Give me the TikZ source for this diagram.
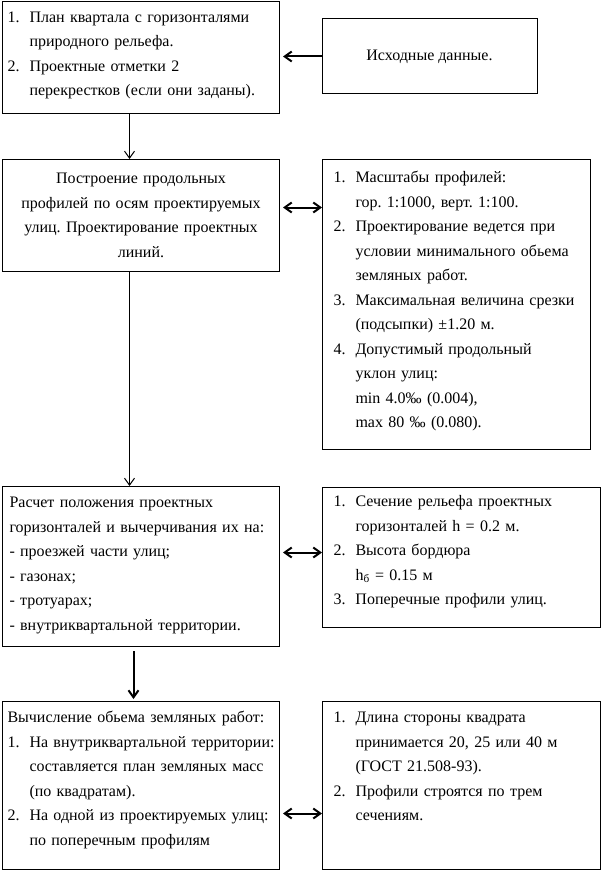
\documentclass[tikz,border=0pt]{standalone}
\usepackage{fontspec}
\setmainfont{Liberation Serif}
\usetikzlibrary{arrows.meta,positioning}
\frenchspacing
\newcommand{\nr}[1]{\makebox[22pt][l]{#1}}
\newcommand{\insp}{\hspace*{22pt}}

\begin{document}
\begin{tikzpicture}[x=1pt,y=-1pt,
  kader/.style={draw,line width=1pt,inner sep=0pt,font=\fontsize{16}{24.5}\selectfont},
  blok/.style={kader,anchor=north west,align=left},
  pijl/.style={-{Straight Barb[length=7pt,width=10pt]},line width=1pt},
  dikpijl/.style={pijl,line width=2pt},
  dubbel/.style={{Straight Barb[length=7pt,width=10pt]}-{Straight Barb[length=7pt,width=10pt]},line width=2pt}]
\useasboundingbox (0,0) rectangle (603,872);
% left column
\node[blok,text width=267pt,inner xsep=5pt,text height=21pt,text depth=91pt] (plan) at (2,1)
  {\nr{1.}План квартала с горизонталями\\
   \insp природного рельефа.\\
   \nr{2.}Проектные отметки 2\\
   \insp перекрестков (если они заданы).};
\node[kader,align=center,anchor=north west,text width=267pt,inner xsep=5pt,text height=24pt,text depth=88pt] (profielen) at (2,159)
  {Построение продольных\\
   профилей по осям проектируемых\\
   улиц. Проектирование проектных\\
   линий.};
\node[blok,text width=263pt,inner xsep=7pt,text height=21pt,text depth=139pt] (horizontalen) at (2,486)
  {Расчет положения проектных\\
   горизонталей и вычерчивания их на:\\
   - проезжей части улиц;\\
   - газонах;\\
   - тротуарах;\\
   - внутриквартальной территории.};
\node[blok,text width=267pt,inner xsep=5pt,text height=21pt,text depth=147pt] (volume) at (2,701)
  {Вычисление обьема земляных работ:\\
   \nr{1.}\mbox{На внутриквартальной территории:}\\
   \insp составляется план земляных масс\\
   \insp (по квадратам).\\
   \nr{2.}\mbox{На одной из проектируемых улиц:}\\
   \insp по поперечным профилям};
% right column
\node[kader,minimum width=215pt,minimum height=75pt] (bron) at (429.5,56.5) {Исходные данные.};
\node[blok,text width=246pt,inner xsep=11pt,text height=23pt,text depth=267pt] (schalen) at (322,159)
  {\nr{1.}Масштабы профилей:\\
   \insp гор. 1:1000, верт. 1:100.\\
   \nr{2.}Проектирование ведется при\\
   \insp \mbox{условии минимального обьема}\\
   \insp земляных работ.\\
   \nr{3.}\mbox{Максимальная величина срезки}\\
   \insp (подсыпки) ±1.20 м.\\
   \nr{4.}Допустимый продольный\\
   \insp уклон улиц:\\
   \insp min 4.0‰ (0.004),\\
   \insp max 80 ‰ (0.080).};
\node[blok,text width=256pt,inner xsep=11pt,text height=19pt,text depth=121pt] (sectie) at (322,487)
  {\nr{1.}Сечение рельефа проектных\\
   \insp горизонталей h = 0.2 м.\\
   \nr{2.}Высота бордюра\\
   \insp h\textsubscript{б} = 0.15 м\\
   \nr{3.}Поперечные профили улиц.};
\node[blok,text width=256pt,inner xsep=11pt,text height=21pt,text depth=147pt] (kwadraten) at (322,701)
  {\nr{1.}Длина стороны квадрата\\
   \insp принимается 20, 25 или 40 м\\
   \insp (ГОСТ 21.508-93).\\
   \nr{2.}Профили строятся по трем\\
   \insp сечениям.};
% arrows
\draw[dikpijl,shorten >=3pt] (bron.west) -- (plan.east |- bron.west);
\draw[pijl] ([xshift=-11.5pt]plan.south) -- ([xshift=-11.5pt]profielen.north);
\draw[pijl] ([xshift=-11.5pt]profielen.south) -- ([xshift=-11.5pt]horizontalen.north);
\draw[dikpijl,shorten <=4pt,shorten >=2pt] ([xshift=-7.5pt]horizontalen.south) -- ([xshift=-7.5pt]volume.north);
\draw[dubbel,shorten <=3pt] ([yshift=8pt]profielen.east) -- ([yshift=8pt]profielen.east -| schalen.west);
\draw[dubbel,shorten <=3pt] ([yshift=14pt]horizontalen.east) -- ([yshift=14pt]horizontalen.east -| sectie.west);
\draw[dubbel,shorten <=3pt] ([yshift=-28pt]volume.east) -- ([yshift=-28pt]volume.east -| kwadraten.west);
\end{tikzpicture}
\end{document}
